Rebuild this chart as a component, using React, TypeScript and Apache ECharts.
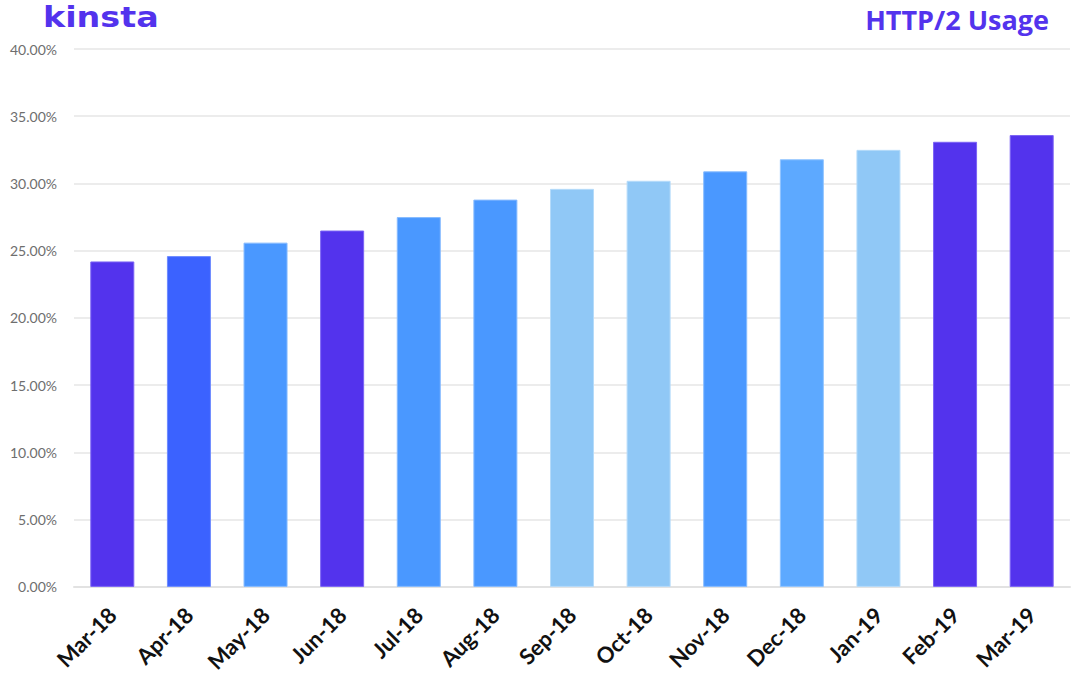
import React, { useEffect, useRef } from "react";
import * as echarts from "echarts";

const categories = ["Mar-18", "Apr-18", "May-18", "Jun-18", "Jul-18", "Aug-18", "Sep-18", "Oct-18", "Nov-18", "Dec-18", "Jan-19", "Feb-19", "Mar-19"];
const values = [24.2, 24.6, 25.6, 26.5, 27.5, 28.8, 29.6, 30.2, 30.9, 31.8, 32.5, 33.1, 33.6];
const barColors = ["#5333ED", "#3B62FF", "#4A98FF", "#5333ED", "#4A98FF", "#4A98FF", "#90C8F6", "#90C8F6", "#4A98FF", "#5DA9FF", "#90C8F6", "#5333ED", "#5333ED"];
const borderColors = ["#7B63F5", "#6E8BFF", "#86BBFF", "#7B63F5", "#86BBFF", "#86BBFF", "#B5DBFA", "#B5DBFA", "#86BBFF", "#92C5FF", "#B5DBFA", "#7B63F5", "#7B63F5"];
const yTicks = { min: 0, max: 40, interval: 5 };

export default function App() {
  const ref = useRef<HTMLDivElement>(null);
  useEffect(() => {
    const chart = echarts.init(ref.current!, null, { renderer: "svg" });
    chart.setOption({
      animation: false,
      backgroundColor: "#ffffff",
      graphic: [
        {
          type: "text",
          x: 43,
          y: 2,
          scaleX: 1.15,
          style: { text: "kinsta", fill: "#5333ED", font: "bold 29px 'DejaVu Sans', sans-serif" },
        },
        {
          type: "text",
          right: 31,
          top: 6,
          style: { text: "HTTP/2 Usage", fill: "#5333ED", font: "bold 27px 'Open Sans', sans-serif" },
        },
      ],
      grid: { left: 74, right: 10, top: 49, bottom: 88, containLabel: false },
      xAxis: {
        type: "category",
        data: categories,
        axisLine: { lineStyle: { color: "#E2E2E2", width: 2 } },
        axisTick: { show: false },
        axisLabel: {
          rotate: 45,
          interval: 0,
          margin: 24,
          color: "#111111",
          fontFamily: "Lato, sans-serif",
          fontWeight: "bold",
          fontSize: 22,
        },
      },
      yAxis: {
        type: "value",
        min: yTicks.min,
        max: yTicks.max,
        interval: yTicks.interval,
        axisLine: { show: false },
        axisTick: { show: false },
        splitLine: { lineStyle: { color: "#E6E6E6", width: 1.5 } },
        axisLabel: {
          margin: 17,
          color: "#6E6E6E",
          fontFamily: "Lato, sans-serif",
          fontSize: 14,
          formatter: (v: number) => v.toFixed(2) + "%",
        },
      },
      series: [
        {
          type: "bar",
          barWidth: 44,
          data: values.map((v, i) => ({
            value: v,
            itemStyle: { color: barColors[i], borderColor: borderColors[i], borderWidth: 1 },
          })),
        },
      ],
    });
    return () => chart.dispose();
  }, []);
  return <div ref={ref} style={{ position: "fixed", left: 0, top: 0, width: 1080, height: 675 }} />;
}
